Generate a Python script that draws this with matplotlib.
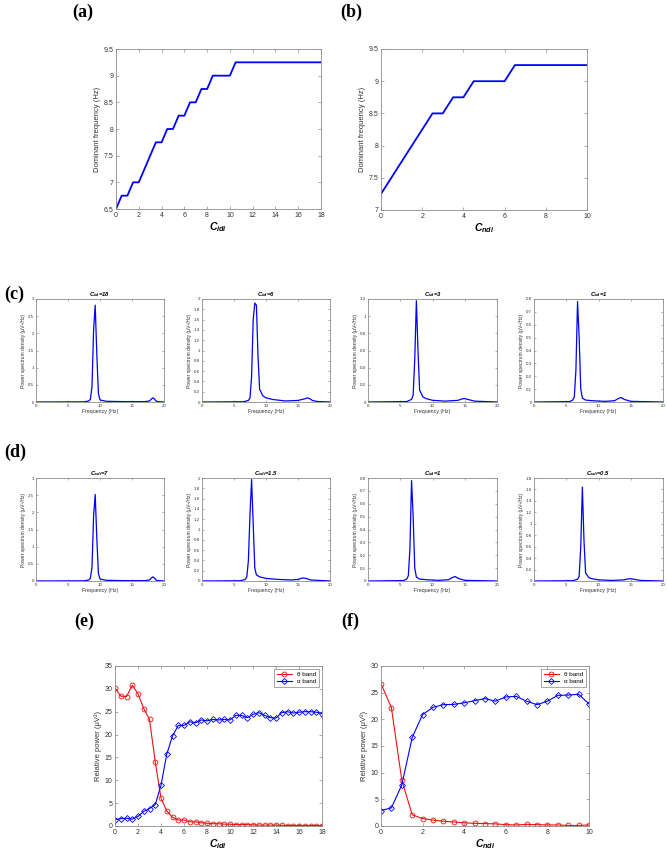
import numpy as np
import matplotlib
matplotlib.use('Agg')
import matplotlib.pyplot as plt

plt.rcParams['font.family'] = ['Liberation Sans', 'DejaVu Sans']
plt.rcParams['mathtext.fontset'] = 'custom'
plt.rcParams['mathtext.it'] = 'Liberation Sans:italic:bold'
plt.rcParams['mathtext.rm'] = 'Liberation Sans:bold'
plt.rcParams['mathtext.bf'] = 'Liberation Sans:bold'

# ---------------- donnees ----------------
# (a) frequence dominante vs C_idi
c_idi = np.arange(0, 18.01, 0.5)
freq_dom_idi = [6.5, 6.75, 6.75, 7, 7, 7.25, 7.5, 7.75, 7.75, 8, 8, 8.25, 8.25, 8.5, 8.5,
                8.75, 8.75, 9, 9, 9, 9, 9.25, 9.25, 9.25, 9.25, 9.25, 9.25, 9.25, 9.25,
                9.25, 9.25, 9.25, 9.25, 9.25, 9.25, 9.25, 9.25]
# (b) frequence dominante vs C_ndi
c_ndi = np.arange(0, 10.01, 0.5)
freq_dom_ndi = [7.25, 7.5, 7.75, 8, 8.25, 8.5, 8.5, 8.75, 8.75, 9, 9, 9, 9, 9.25,
                9.25, 9.25, 9.25, 9.25, 9.25, 9.25, 9.25]

# (c) et (d) densites spectrales
psd_titles = [r'$C_{idi}$=18', r'$C_{idi}$=6', r'$C_{idi}$=3', r'$C_{idi}$=1',
              r'$C_{ndi}$=7', r'$C_{ndi}$=1.5', r'$C_{idi}$=1', r'$C_{ndi}$=0.5']
psd_freq = [
    [0, 7.5, 8.25, 8.5, 8.75, 9.0, 9.25, 9.5, 9.75, 10, 11, 14, 17, 17.75, 18.0, 18.25, 18.5, 18.75, 19, 20],
    [0, 6.5, 7.25, 7.5, 7.75, 8.0, 8.25, 8.5, 8.75, 9.0, 9.5, 10, 11, 13, 15, 16, 16.5, 16.75, 17.25, 18, 20],
    [0, 6, 6.75, 7.0, 7.25, 7.5, 7.75, 8.0, 8.5, 9, 10, 12, 14, 14.5, 15, 15.5, 16.5, 20],
    [0, 5.5, 6.0, 6.25, 6.5, 6.75, 7.0, 7.25, 7.5, 8, 9, 11, 12.5, 13, 13.5, 14, 15, 20],
    [0, 7.5, 8.25, 8.5, 8.75, 9.0, 9.25, 9.5, 9.75, 10, 11, 14, 17, 17.75, 18.0, 18.25, 18.5, 18.75, 19, 20],
    [0, 6, 6.75, 7.0, 7.25, 7.5, 7.75, 8.0, 8.25, 8.5, 9.0, 10, 12, 14, 15, 15.75, 16.25, 17, 20],
    [0, 5.5, 6.0, 6.25, 6.5, 6.75, 7.0, 7.25, 7.5, 8, 9, 11, 12.5, 13, 13.5, 14, 15, 20],
    [0, 6, 6.75, 7.0, 7.25, 7.5, 7.75, 8.0, 8.5, 9, 10, 12, 14, 14.5, 15, 15.5, 16.5, 20],
]
psd_vals = [
    [0, 0.005, 0.03, 0.08, 0.45, 2.1, 2.82, 1.4, 0.25, 0.06, 0.02, 0.01, 0.01, 0.03, 0.08, 0.12, 0.09, 0.03, 0.01, 0],
    [0, 0.005, 0.03, 0.08, 0.5, 1.6, 1.92, 1.88, 0.9, 0.25, 0.12, 0.08, 0.05, 0.02, 0.03, 0.06, 0.08, 0.07, 0.03, 0.01, 0],
    [0, 0.005, 0.03, 0.08, 0.5, 1.18, 0.6, 0.14, 0.06, 0.04, 0.02, 0.01, 0.02, 0.035, 0.04, 0.03, 0.01, 0],
    [0, 0.003, 0.015, 0.04, 0.25, 0.78, 0.5, 0.1, 0.03, 0.015, 0.01, 0.005, 0.01, 0.025, 0.035, 0.02, 0.005, 0],
    [0, 0.005, 0.03, 0.08, 0.4, 1.9, 2.52, 1.25, 0.22, 0.06, 0.02, 0.01, 0.01, 0.03, 0.08, 0.12, 0.09, 0.03, 0.01, 0],
    [0, 0.005, 0.03, 0.08, 0.4, 1.3, 1.97, 1.1, 0.25, 0.12, 0.08, 0.05, 0.03, 0.02, 0.03, 0.06, 0.05, 0.02, 0],
    [0, 0.003, 0.015, 0.04, 0.25, 0.78, 0.5, 0.1, 0.03, 0.015, 0.01, 0.005, 0.01, 0.025, 0.035, 0.02, 0.005, 0],
    [0, 0.005, 0.03, 0.08, 0.6, 1.64, 0.7, 0.14, 0.06, 0.04, 0.02, 0.01, 0.02, 0.035, 0.04, 0.03, 0.01, 0],
]
psd_ymax = [3, 2, 1.2, 0.8, 3, 2, 0.8, 1.8]
psd_ystep = [0.5, 0.2, 0.2, 0.1, 0.5, 0.2, 0.1, 0.2]

# (e) puissance relative vs C_idi
theta_idi = [30.2, 28.4, 28.3, 30.8, 28.9, 25.7, 23.3, 14.0, 6.1, 3.3, 1.9, 1.3, 1.3, 0.9, 0.9,
             0.7, 0.6, 0.5, 0.5, 0.4, 0.4, 0.3, 0.3, 0.3, 0.25, 0.2, 0.2, 0.2, 0.2, 0.15, 0.1,
             0.1, 0.1, 0.1, 0.1, 0.1, 0.1]
alpha_idi = [1.4, 1.6, 1.7, 1.5, 2.1, 3.2, 3.8, 4.7, 8.9, 15.7, 19.7, 22.0, 22.0, 22.8, 22.6,
             23.2, 23.0, 23.3, 23.2, 23.3, 23.2, 24.2, 24.2, 23.7, 24.4, 24.8, 24.2, 23.7, 23.6,
             24.8, 25.0, 24.7, 24.9, 25.0, 25.0, 24.9, 24.6]
# (f) puissance relative vs C_ndi
theta_ndi = [26.7, 22.2, 8.6, 2.1, 1.4, 1.1, 0.9, 0.75, 0.6, 0.5, 0.45, 0.4, 0.25, 0.2, 0.3,
             0.25, 0.2, 0.2, 0.1, 0.1, 0.2]
alpha_ndi = [2.9, 3.4, 7.7, 16.6, 20.9, 22.25, 22.75, 22.8, 23.1, 23.5, 23.9, 23.4, 24.2, 24.3,
             23.4, 22.75, 23.4, 24.5, 24.55, 24.7, 22.9]

# ---------------- figure ----------------
W, H = 667, 851
fig = plt.figure(figsize=(W / 100, H / 100), dpi=100)


def rect(x0, y0, x1, y1):
    return [x0 / W, 1 - y1 / H, (x1 - x0) / W, (y1 - y0) / H]


def style(ax, fs):
    for s in ax.spines.values():
        s.set_color('0.55')
        s.set_linewidth(0.6)
    ax.tick_params(direction='in', top=True, right=True, length=2, width=0.5,
                   colors='0.55', labelcolor='0.2', labelsize=fs, pad=2)


def panel_label(x, y, txt):
    fig.text(x / W, 1 - y / H, txt, family='Liberation Serif', weight='bold',
             fontsize=13, va='center', ha='left')


blue = '#0000ff'
red = '#ee1111'

# (a)
ax = fig.add_axes(rect(116, 49, 321, 209))
ax.plot(c_idi, freq_dom_idi, color=blue, lw=1.3)
ax.set_xlim(0, 18)
ax.set_ylim(6.5, 9.5)
ax.set_xticks(np.arange(0, 19, 2))
ax.set_yticks(np.arange(6.5, 9.51, 0.5))
ax.set_yticklabels(['6.5', '7', '7.5', '8', '8.5', '9', '9.5'])
style(ax, 5)
ax.set_ylabel('Dominant frequency (Hz)', fontsize=5.5, color='0.2', labelpad=2)
ax.set_xlabel(r'$C_{idi}$', fontsize=7.5, labelpad=1)
panel_label(72, 12, '(a)')

# (b)
ax = fig.add_axes(rect(381, 49, 587, 210))
ax.plot(c_ndi, freq_dom_ndi, color=blue, lw=1.3)
ax.set_xlim(0, 10)
ax.set_ylim(7, 9.5)
ax.set_xticks(np.arange(0, 11, 2))
ax.set_yticks(np.arange(7, 9.51, 0.5))
ax.set_yticklabels(['7', '7.5', '8', '8.5', '9', '9.5'])
style(ax, 5)
ax.set_ylabel('Dominant frequency (Hz)', fontsize=5.5, color='0.2', labelpad=2)
ax.set_xlabel(r'$C_{ndi}$', fontsize=7.5, labelpad=1)
panel_label(340, 12, '(b)')

# (c) et (d)
xs = [(36, 164), (202, 330), (368, 497), (534, 663)]
rows = [(299, 402), (478, 581)]
for i in range(8):
    r, c = divmod(i, 4)
    ax = fig.add_axes(rect(xs[c][0], rows[r][0], xs[c][1], rows[r][1]))
    ax.plot(psd_freq[i], psd_vals[i], color=blue, lw=0.9)
    ax.set_xlim(0, 20)
    ax.set_ylim(0, psd_ymax[i])
    ax.set_xticks([0, 5, 10, 15, 20])
    yt = np.arange(0, psd_ymax[i] + 1e-6, psd_ystep[i])
    ax.set_yticks(yt)
    ax.set_yticklabels(['%g' % round(v, 2) for v in yt])
    style(ax, 3.2)
    ax.tick_params(length=1.5, pad=1.5)
    ax.set_title(psd_titles[i], fontsize=4.2, weight='bold', style='italic', pad=2)
    ax.set_xlabel('Frequency (Hz)', fontsize=3.8, color='0.2', labelpad=1)
    ax.set_ylabel('Power spectrum density (μV²/Hz)', fontsize=3.6, color='0.2', labelpad=1.5)
panel_label(4, 294, '(c)')
panel_label(4, 452, '(d)')

# (e)
ax = fig.add_axes(rect(115, 666, 322, 826))
ax.plot(c_idi, theta_idi, color=red, lw=0.8, marker='o', ms=3.5, mfc='none', mew=0.6,
        label='θ band')
ax.plot(c_idi, alpha_idi, color=blue, lw=0.8, marker='D', ms=3, mfc='none', mew=0.6,
        label='α band')
ax.set_xlim(0, 18)
ax.set_ylim(0, 35)
ax.set_xticks(np.arange(0, 19, 2))
ax.set_yticks(np.arange(0, 36, 5))
style(ax, 5)
ax.set_ylabel('Relative power (μV²)', fontsize=5.5, color='0.2', labelpad=2)
ax.set_xlabel(r'$C_{idi}$', fontsize=7.5, labelpad=1)
leg = ax.legend(loc='upper right', fontsize=4.5, frameon=True, fancybox=False,
                edgecolor='0.4', borderpad=0.4, handlelength=2.5, labelspacing=0.3)
leg.get_frame().set_linewidth(0.5)
panel_label(74, 621, '(e)')

# (f)
ax = fig.add_axes(rect(381, 666, 589, 826))
ax.plot(c_ndi, theta_ndi, color=red, lw=0.8, marker='o', ms=3.5, mfc='none', mew=0.6,
        label='θ band')
ax.plot(c_ndi, alpha_ndi, color=blue, lw=0.8, marker='D', ms=3, mfc='none', mew=0.6,
        label='α band')
ax.set_xlim(0, 10)
ax.set_ylim(0, 30)
ax.set_xticks(np.arange(0, 11, 2))
ax.set_yticks(np.arange(0, 31, 5))
style(ax, 5)
ax.set_ylabel('Relative power (μV²)', fontsize=5.5, color='0.2', labelpad=2)
ax.set_xlabel(r'$C_{ndi}$', fontsize=7.5, labelpad=1)
leg = ax.legend(loc='upper right', fontsize=4.5, frameon=True, fancybox=False,
                edgecolor='0.4', borderpad=0.4, handlelength=2.5, labelspacing=0.3)
leg.get_frame().set_linewidth(0.5)
panel_label(341, 621, '(f)')

fig.savefig('out.png', dpi=100)
